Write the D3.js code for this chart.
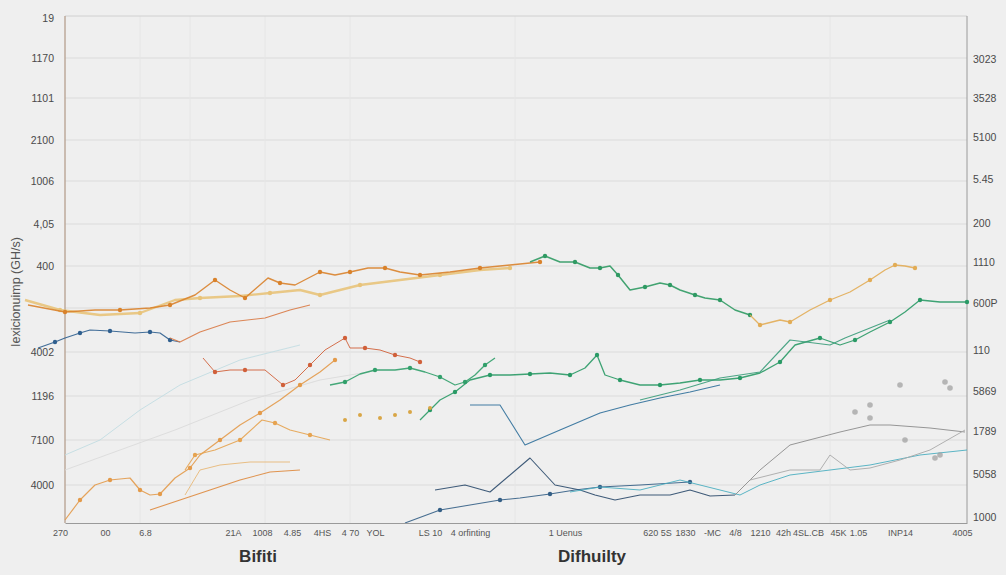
<!DOCTYPE html>
<html>
<head>
<meta charset="utf-8">
<script src="https://cdn.jsdelivr.net/npm/d3@7"></script>
<style>
  body { margin: 0; background: #efefef; }
  .tick text { font-family: "Liberation Sans", Arial, sans-serif; }
</style>
</head>
<body>
<div class="canvas"></div>
<script>
// tick labels
const leftTicks = [50.5, 46.5, 42.5, 38.3, 34.2, 29.9, 25.7, 17.1, 12.7, 8.3, 3.8];
const leftLabels = ["19", "1170", "1101", "2100", "1006", "4,05", "400", "4002", "1196", "7100", "4000"];
const rightTicks = [46.4, 42.5, 38.6, 34.4, 30, 26.1, 22, 17.3, 13.2, 9.2, 4.9, 0.6];
const rightLabels = ["3023", "3528", "5100", "5.45", "200", "1110", "600P", "110", "5869", "1789", "5058", "1000"];
const gridValues = [46.5, 42.5, 38.3, 34.2, 29.9, 25.7, 21.5, 17.1, 12.7, 8.3, 3.8];
const vGrid = [7.5, 12.5, 20, 28.5, 45, 76.5];
const bottomTicks = [-0.5, 4, 8, 16.8, 19.7, 22.7, 25.7, 28.5, 31, 36.5, 40.5, 50, 59.2, 62, 64.7, 67, 69.5, 71.8, 74.3, 77.3, 79.3, 83.5, 89.7];
const bottomLabels = ["270", "00", "6.8", "21A", "1008", "4.85", "4HS", "4 70", "YOL", "LS 10", "4 orfinting", "1 Uenus",
  "620 5S", "1830", "-MC", "4/8", "1210", "42h", "4SL.CB", "45K", "1.05", "INP14", "4005"];

// series: [x, y] pairs
const goldTop = [[-4,22.3],[-0.5,21.3],[3.5,20.8],[7.5,21],[11,22.3],[13.5,22.5],[17.5,22.7],[20.5,23],[23.5,23.3],[25.5,22.8],[27.5,23.3],[29.5,23.8],[33.5,24.3],[37.5,24.8],[41.5,25.3],[44.5,25.5]];
const orangeTop = [[-3.7,21.8],[0,21.1],[3,21.3],[5.5,21.3],[8.5,21.5],[10.5,21.8],[13,22.8],[15,24.3],[16.5,23.3],[18,22.5],[20.3,24.5],[21.5,24],[23,23.8],[25.5,25.1],[27,24.8],[28.5,25.1],[30.3,25.5],[32,25.5],[33.5,25.1],[35.5,24.8],[38.5,25.1],[41.5,25.5],[44.5,25.8],[47.5,26.1]];
const greenTop = [[46.5,26.1],[48,26.7],[49.5,26.1],[51,26.1],[52.5,25.5],[53.5,25.5],[54.5,25.7],[55.3,24.8],[56.5,23.3],[58,23.6],[59.5,24],[60.5,23.8],[61.5,23.3],[63,22.8],[64,22.5],[65.5,22.3],[67,21.3],[68.5,20.8]];
const goldRight = [[68.5,20.8],[69.5,19.8],[71.5,20.3],[72.5,20.1],[74.5,21.3],[76.5,22.3],[78.5,23.1],[80.5,24.3],[82,25.3],[83,25.8],[84,25.7],[85,25.5]];
const blueLeft = [[-2.7,17.5],[-1,18.1],[0,18.5],[1.5,19],[2.5,19.3],[4.5,19.2],[7,19],[8.5,19.1],[9.5,19],[10.5,18.3],[11.5,18.1]];
const orangeMid = [[10.5,18.5],[11.5,18.1],[13.5,19.1],[16.5,20.1],[20,20.5],[22.5,21.3],[24.5,21.8]];
const redDrop = [[13.8,16.5],[15,15.1],[16.5,15.3],[18,15.3],[20,15.3],[21.8,13.8],[23,14.3],[24.5,15.8],[26,17.3],[28,18.5],[28.5,17.5],[30,17.5],[31.5,17.3],[33,16.8],[34.5,16.5],[35.5,16.1]];
const greenMid = [[26.5,13.8],[28,14.1],[29.5,14.9],[31,15.3],[33,15.3],[34.5,15.5],[36,15.1],[37.5,14.6],[39,13.8],[40,14.1],[41,14.8],[42,15.8],[43,16.5]];
const greenLong = [[35.5,10.3],[36.5,11.3],[37.5,12.3],[39,13.1],[40.5,14.3],[42.5,14.8],[44.5,14.8],[46.5,14.9],[48.5,15],[50.5,14.8],[52,15.5],[53.2,16.8],[54,14.8],[55.5,14.3],[57.5,13.8],[59.5,13.8],[61.5,14],[63.5,14.3],[65.5,14.3],[67.5,14.5],[69.5,15],[71.5,16.1],[73,17.8],[75.5,18.5],[77.5,17.8],[79,18.3],[80.5,19.1],[82.5,20.1],[84,21.1],[85.5,22.3],[87.5,22.1],[90.2,22.1]];
const tealGreen = [[57.5,12.3],[61.5,13.3],[65.5,14.5],[69.5,15.1],[72.5,18.3],[76.5,17.8],[78,18.5],[80.5,19.5],[82.5,20.3]];
const blueMid = [[40.5,11.8],[43.5,11.8],[46,7.8],[49.5,9.3],[53.5,11],[56.5,11.8],[59.5,12.5],[62.5,13.1],[65.5,13.8]];
const navyLow = [[37,3.3],[40,3.8],[42.5,3.1],[46.5,6.5],[49,3.8],[51.5,3.3],[53,2.8],[55,2.3],[57.5,2.8],[60.5,2.8],[62.5,3.3],[64.5,2.7],[67,2.8]];
const navyBase = [[34,0],[37.5,1.3],[40.5,1.8],[43.5,2.3],[45.5,2.5],[48.5,2.9],[51,3.3],[53.5,3.6],[57.5,3.8],[62.5,4.1]];
const tealLow = [[50.5,3.1],[53.5,3.6],[57.5,3.3],[61.5,4.3],[65.5,3.3],[67.5,2.8],[69.5,3.8],[72.5,4.8],[76.5,5.3],[80.5,5.8],[85.5,6.8],[90.2,7.3]];
const grayHigh = [[67,2.8],[69.5,5.3],[72.5,7.8],[77.5,9.1],[80.5,9.8],[82.5,9.8],[86.5,9.5],[90,9.1]];
const grayMid = [[68.5,4.3],[72.5,5.3],[75.5,5.3],[76.5,6.8],[78.5,5.3],[80.5,5.5],[83.5,6.3],[86.5,7.3],[90,9.3]];
const lightBlue = [[0,6.8],[3.5,8.3],[7.5,11.3],[11.5,13.8],[17.5,16.3],[23.5,17.8]];
const graySlope = [[0,5.3],[5.5,7.3],[11,9.3],[18.5,12.3],[25.5,14.3],[31.5,15.3]];
const orangeLowA = [[0,0.3],[1.5,2.3],[3,3.8],[4.5,4.3],[6.5,4.5],[7.5,3.3],[8.5,2.8],[9.5,2.9],[11,4.5],[12.5,5.5],[13.5,6.8],[15.5,8.3],[17.5,9.8],[19.5,11],[21.5,12.3],[23.5,13.8],[25.5,15.1],[27,16.3]];
const orangeLowB = [[8.5,1.3],[11.5,2.3],[14.5,3.3],[17.5,4.3],[20.5,5.1],[23.5,5.3]];
const orangeLowC = [[12,5.3],[13,6.8],[15,7.3],[17.5,8.3],[19.7,10.3],[21,10],[22.5,9.3],[24.5,8.8],[26.5,8.3]];
const orangeLowD = [[12,2.8],[13.5,5.3],[15.5,5.8],[18.5,6.1],[22.5,6.1]];
const goldDots = [[28,10.3],[29.5,10.8],[31.5,10.5],[33,10.8],[34.5,11.1],[36.5,11.5]];
const grayDots = [[79,11.1],[80.5,11.8],[83.5,13.8],[88,14.1],[88.5,13.5],[87,6.5],[87.5,6.8],[80.5,10.5],[84,8.3]];

// styles kept apart from the data
const series = [
  {pts: lightBlue, color: '#c2dde2', w: 1, dots: false},
  {pts: graySlope, color: '#dadada', w: 1, dots: false},
  {pts: goldTop, color: '#e8c37a', w: 2.4, dots: true},
  {pts: orangeTop, color: '#d9822b', w: 1.4, dots: true},
  {pts: greenTop, color: '#2f9a63', w: 1.5, dots: true},
  {pts: goldRight, color: '#e2ac55', w: 1.3, dots: true},
  {pts: blueLeft, color: '#2f5f8f', w: 1.2, dots: true},
  {pts: orangeMid, color: '#d97a45', w: 1.1, dots: false},
  {pts: redDrop, color: '#d0603a', w: 1, dots: true},
  {pts: greenMid, color: '#32a06b', w: 1.3, dots: true},
  {pts: greenLong, color: '#2a9a66', w: 1.3, dots: true},
  {pts: tealGreen, color: '#3a9c7a', w: 1.1, dots: false},
  {pts: blueMid, color: '#2f6f9a', w: 1.1, dots: false},
  {pts: navyLow, color: '#2b4a6b', w: 1.1, dots: false},
  {pts: navyBase, color: '#345f86', w: 1.1, dots: true},
  {pts: tealLow, color: '#4aaec0', w: 1, dots: false},
  {pts: grayHigh, color: '#8c8c8c', w: 1, dots: false},
  {pts: grayMid, color: '#a8a8a8', w: 1, dots: false},
  {pts: orangeLowA, color: '#e39a4a', w: 1.2, dots: true},
  {pts: orangeLowB, color: '#de8a3e', w: 1.1, dots: false},
  {pts: orangeLowC, color: '#e6a350', w: 1.1, dots: true},
  {pts: orangeLowD, color: '#e8b878', w: 1, dots: false}
];

// margins
const margin = {top: 16, right: 39, bottom: 52, left: 65};
const width = 1006, height = 575;
const graphWidth = width - margin.left - margin.right;
const graphHeight = height - margin.top - margin.bottom;

const svg = d3.select('.canvas').append('svg')
    .attr('width', width)
    .attr('height', height)
    .style('background', '#efefef');

const graph = svg.append('g')
    .attr('transform', `translate(${margin.left}, ${margin.top})`);

// scales
const x = d3.scaleLinear().domain([0, 90.2]).range([0, graphWidth]);
const y = d3.scaleLinear().domain([0, 50.7]).range([graphHeight, 0]);

// grid
graph.append('g').selectAll('line').data(gridValues).join('line')
    .attr('x1', 0).attr('x2', graphWidth)
    .attr('y1', d => y(d)).attr('y2', d => y(d))
    .attr('stroke', '#dbdbdb').attr('stroke-width', 1);
graph.append('g').selectAll('line').data(vGrid).join('line')
    .attr('x1', d => x(d)).attr('x2', d => x(d))
    .attr('y1', 0).attr('y2', graphHeight)
    .attr('stroke', '#e6e6e6').attr('stroke-width', 1);

// frame
graph.append('line').attr('x1', 0).attr('x2', graphWidth).attr('y1', 0).attr('y2', 0)
    .attr('stroke', '#d0d0d0');
graph.append('line').attr('x1', graphWidth).attr('x2', graphWidth).attr('y1', 0).attr('y2', graphHeight)
    .attr('stroke', '#9a9a9a');
graph.append('line').attr('x1', 0).attr('x2', 0).attr('y1', 0).attr('y2', graphHeight)
    .attr('stroke', '#b59f8e').attr('stroke-width', 1.3);

// line generator
const line = d3.line()
    .x(d => x(d[0]))
    .y(d => y(d[1]));

series.forEach(s => {
  graph.append('path')
      .datum(s.pts)
      .attr('fill', 'none')
      .attr('stroke', s.color)
      .attr('stroke-width', s.w)
      .attr('stroke-linejoin', 'round')
      .attr('opacity', 0.9)
      .attr('d', line);
  if (s.dots) {
    graph.append('g').selectAll('circle')
        .data(s.pts.filter((d, i) => i % 2 === 1))
        .join('circle')
        .attr('cx', d => x(d[0]))
        .attr('cy', d => y(d[1]))
        .attr('r', 2.2)
        .attr('fill', s.color);
  }
});

graph.append('g').selectAll('circle').data(goldDots).join('circle')
    .attr('cx', d => x(d[0])).attr('cy', d => y(d[1])).attr('r', 2).attr('fill', '#d9a646');
graph.append('g').selectAll('circle').data(grayDots).join('circle')
    .attr('cx', d => x(d[0])).attr('cy', d => y(d[1])).attr('r', 2.8).attr('fill', '#9c9c9c').attr('opacity', 0.7);

// axes
const yAxisLeft = d3.axisLeft(y).tickValues(leftTicks)
    .tickFormat((d, i) => leftLabels[i]).tickSize(0).tickPadding(11);
const yAxisRight = d3.axisRight(y).tickValues(rightTicks)
    .tickFormat((d, i) => rightLabels[i]).tickSize(0).tickPadding(6);
const xAxis = d3.axisBottom(x).tickValues(bottomTicks)
    .tickFormat((d, i) => bottomLabels[i]).tickSize(0).tickPadding(7);

const gl = graph.append('g').call(yAxisLeft);
const gr = graph.append('g').attr('transform', `translate(${graphWidth},0)`).call(yAxisRight);
const gb = graph.append('g').attr('transform', `translate(0,${graphHeight})`).call(xAxis);
[gl, gr].forEach(g => {
  g.selectAll('text').attr('fill', '#4a4a4a').style('font-size', '10.5px');
});
gb.select('.domain').attr('stroke', '#9a9a9a');
gb.selectAll('text').attr('fill', '#555').style('font-size', '9px');
gl.select('.domain').remove();
gr.select('.domain').remove();

// axis titles
svg.append('text')
    .attr('x', 258).attr('y', 562)
    .attr('text-anchor', 'middle')
    .style('font-family', '"Liberation Sans", Arial, sans-serif')
    .style('font-weight', 'bold').style('font-size', '17px')
    .attr('fill', '#333')
    .text('Bifiti');
svg.append('text')
    .attr('x', 592).attr('y', 562)
    .attr('text-anchor', 'middle')
    .style('font-family', '"Liberation Sans", Arial, sans-serif')
    .style('font-weight', 'bold').style('font-size', '17px')
    .attr('fill', '#333')
    .text('Difhuilty');
svg.append('text')
    .attr('transform', 'translate(20, 292) rotate(-90)')
    .attr('text-anchor', 'middle')
    .style('font-family', '"Liberation Sans", Arial, sans-serif')
    .style('font-size', '12.5px')
    .attr('fill', '#555')
    .text('Iexicionuimp (GH/s)');
</script>
</body>
</html>
